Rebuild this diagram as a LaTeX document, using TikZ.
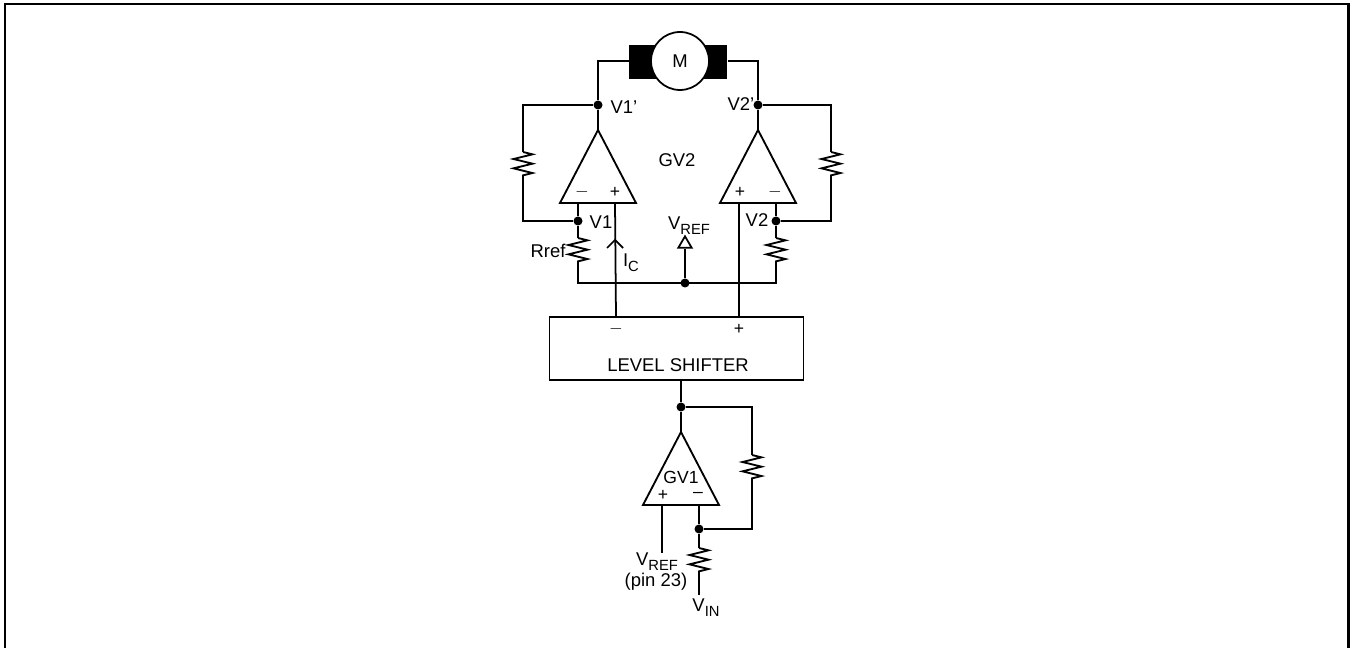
\documentclass[tikz,border=0pt]{standalone}
\usepackage{fontspec}
\setmainfont{Liberation Sans}
\usepackage{tikz}
\usetikzlibrary{decorations.pathmorphing,shapes.geometric}
\newcommand{\lowtext}[1]{\raisebox{-2.8pt}{\fontsize{8.4}{9}\selectfont #1}}
\tikzset{
  wire/.style={line width=1pt},
  res/.style={line width=1.05pt,decorate,decoration={zigzag,segment length=0.187cm,amplitude=0.19cm}},
  dot/.style={circle,fill=black,inner sep=0pt,minimum size=0.18cm},
  amp/.style={draw,line width=1.05pt,isosceles triangle,isosceles triangle stretches,shape border rotate=90,inner sep=0pt,outer sep=0pt,minimum width=1.52cm,minimum height=1.46cm,anchor=apex},
  lbl/.style={inner sep=0pt,font=\fontsize{10.5}{12}\selectfont},
  sgn/.style={inner sep=0pt,font=\fontsize{10}{12}\selectfont}
}
\begin{document}
\begin{tikzpicture}[x=0.02cm,y=-0.02cm]
   \useasboundingbox (0,0) rectangle (1350,648);
   \draw[line width=1.4pt] (5,648) -- (5,4) -- (1348.5,4) -- (1348.5,648);

   % motor
   \draw (629,45) node[anchor=north west,fill=black,minimum width=1.96cm,minimum height=0.68cm,inner sep=0pt] (brush) {};
   \draw (680,61) node[circle,draw,fill=white,line width=1pt,minimum size=1.16cm,inner sep=0pt,font=\fontsize{10.5}{12}\selectfont] (motor) {M};

   % output stage
   \draw (598,130) node[amp] (ampa) {};
   \draw (758,130) node[amp] (ampb) {};
   \draw (598,105) node[dot] (vonep) {};
   \draw (758,105) node[dot] (vtwop) {};
   \draw (578,221) node[dot] (vone) {};
   \draw (776,221) node[dot] (vtwo) {};
   \draw (685,283) node[dot] (vmid) {};
   \draw (685,244) node[draw,line width=1pt,isosceles triangle,isosceles triangle stretches,shape border rotate=90,inner sep=0pt,minimum width=0.27cm,minimum height=0.23cm] (vreftri) {};

   \draw (598,61) coordinate (mleft);
   \draw (758,61) coordinate (mright);
   \draw (523,105) coordinate (fbatop);
   \draw (523,152) coordinate (fbahi);
   \draw (523,179) coordinate (fbalo);
   \draw (523,221) coordinate (fbabot);
   \draw (831,105) coordinate (fbbtop);
   \draw (831,152) coordinate (fbbhi);
   \draw (831,179) coordinate (fbblo);
   \draw (831,221) coordinate (fbbbot);
   \draw (578,203) coordinate (aminus);
   \draw (615,203) coordinate (aplus);
   \draw (739,203) coordinate (bplus);
   \draw (776,203) coordinate (bminus);
   \draw (578,238) coordinate (rahi);
   \draw (578,266) coordinate (ralo);
   \draw (776,238) coordinate (rbhi);
   \draw (776,266) coordinate (rblo);
   \draw (578,283) coordinate (ba);
   \draw (776,283) coordinate (bb);
   \draw (616,317) coordinate (lsminus);
   \draw (739,317) coordinate (lsplus);
   \draw (607,248) coordinate (icl);
   \draw (615,240) coordinate (ictip);
   \draw (623,248) coordinate (icr);

   \draw[wire] (brush.west |- motor) -- (mleft) -- (vonep);
   \draw[wire] (brush.east |- motor) -- (mright) -- (vtwop);
   \path[-,wire] (vonep) edge (ampa.apex);
   \path[-,wire] (vtwop) edge (ampb.apex);
   \draw[wire] (vonep) -- (fbatop) -- (fbahi);
   \draw[res] (fbahi) -- (fbalo);
   \draw[wire] (fbalo) -- (fbabot) -- (vone);
   \draw[wire] (vtwop) -- (fbbtop) -- (fbbhi);
   \draw[res] (fbbhi) -- (fbblo);
   \draw[wire] (fbblo) -- (fbbbot) -- (vtwo);
   \draw[wire] (aminus) -- (vone) -- (rahi);
   \draw[wire] (bminus) -- (vtwo) -- (rbhi);
   \draw[res] (rahi) -- (ralo);
   \draw[res] (rbhi) -- (rblo);
   \draw[wire] (ralo) -- (ba) -- (bb) -- (rblo);
   \path[-,wire] (vmid) edge (vreftri.lower side);
   \path[-,wire] (aplus) edge (lsminus);
   \path[-,wire] (bplus) edge (lsplus);
   \draw[wire] (icl) -- (ictip) -- (icr);

   % level shifter
   \draw (549.5,317) node[anchor=north west,draw,line width=1.05pt,outer sep=0pt,minimum width=5.08cm,minimum height=1.26cm,inner sep=0pt] (shifter) {};
   \draw (678,365) node[lbl] (shiftertxt) {LEVEL SHIFTER};

   % input stage
   \draw (681,432) node[amp] (ampc) {};
   \draw (681,407) node[dot] (vout) {};
   \draw (699,529) node[dot] (vfb) {};
   \draw (752,407) coordinate (fbctop);
   \draw (752,455) coordinate (fbchi);
   \draw (752,482) coordinate (fbclo);
   \draw (752,529) coordinate (fbcbot);
   \draw (662,506) coordinate (cplus);
   \draw (662,553) coordinate (cplusend);
   \draw (699,506) coordinate (cminus);
   \draw (699,548) coordinate (rchi);
   \draw (699,575) coordinate (rclo);
   \draw (699,595) coordinate (vinend);
   \draw (681,380) coordinate (shifterout);

   \draw[wire] (shifterout) -- (vout) -- (ampc.apex);
   \draw[wire] (vout) -- (fbctop) -- (fbchi);
   \draw[res] (fbchi) -- (fbclo);
   \draw[wire] (fbclo) -- (fbcbot) -- (vfb);
   \draw[wire] (cminus) -- (vfb) -- (rchi);
   \draw[res] (rchi) -- (rclo);
   \path[-,wire] (rclo) edge (vinend);
   \path[-,wire] (cplus) edge (cplusend);

   % labels
   \draw (624,107) node[lbl] (vonetxt) {V1'};
   \draw (741,104) node[lbl] (vtwotxt) {V2'};
   \draw (677,160) node[lbl] (gvtwo) {GV2};
   \draw (601,222) node[lbl] (vonelbl) {V1};
   \draw (757,220) node[lbl] (vtwolbl) {V2};
   \draw (689,226) node[lbl] (vreflbl) {V\lowtext{REF}};
   \draw (548,251) node[lbl] (rreflbl) {Rref};
   \draw (631,263) node[lbl] (iclbl) {I\lowtext{C}};
   \draw (582,192) node[sgn] (aminustxt) {$-$};
   \draw (615,192) node[sgn] (aplustxt) {+};
   \draw (740,192) node[sgn] (bplustxt) {+};
   \draw (775,192) node[sgn] (bminustxt) {$-$};
   \draw (616,329) node[sgn] (lsminustxt) {$-$};
   \draw (739,329) node[sgn] (lsplustxt) {+};
   \draw (681,477) node[inner sep=0pt,font=\fontsize{10}{10}\selectfont] (gvone) {GV1};
   \draw (663,495) node[sgn] (cplustxt) {+};
   \draw (698,495) node[sgn] (cminustxt) {--};
   \draw (657,562) node[lbl] (vrefin) {V\lowtext{REF}};
   \draw (656,582) node[lbl] (pintxt) {(pin 23)};
   \draw (706,608) node[lbl] (vin) {V\lowtext{IN}};
\end{tikzpicture}
\end{document}
